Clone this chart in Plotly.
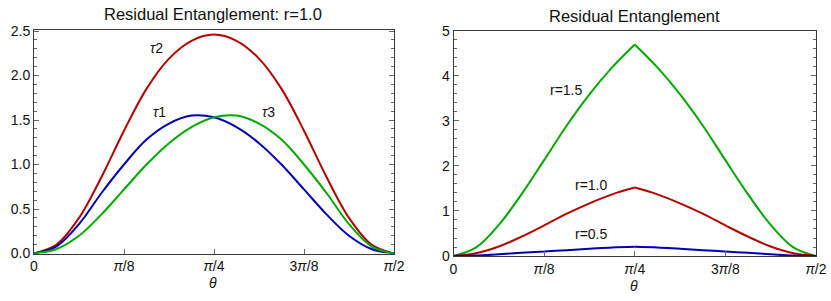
import numpy as np
import plotly.graph_objects as go

# theta samples in units of pi/32
theta_steps = list(range(17))
theta = [k * np.pi / 32 for k in theta_steps]

# Left panel: residual entanglement at r=1.0
tau1 = [0.0, 0.08, 0.33, 0.68, 1.00, 1.28, 1.46, 1.55, 1.53, 1.42, 1.24, 1.00, 0.72, 0.44, 0.20, 0.05, 0.0]
tau2 = [0.0, 0.10, 0.40, 0.86, 1.38, 1.85, 2.19, 2.39, 2.46, 2.39, 2.19, 1.85, 1.38, 0.86, 0.40, 0.10, 0.0]
tau3 = [0.0, 0.05, 0.20, 0.44, 0.72, 1.00, 1.24, 1.42, 1.53, 1.55, 1.46, 1.28, 1.00, 0.68, 0.33, 0.08, 0.0]

# Right panel: residual entanglement for several r
r05 = [0.0, 0.01, 0.04, 0.07, 0.10, 0.13, 0.16, 0.19, 0.205, 0.19, 0.16, 0.13, 0.10, 0.07, 0.04, 0.01, 0.0]
r10 = [0.0, 0.06, 0.21, 0.43, 0.68, 0.94, 1.17, 1.37, 1.52, 1.37, 1.17, 0.94, 0.68, 0.43, 0.21, 0.06, 0.0]
r15 = [0.0, 0.19, 0.69, 1.37, 2.13, 2.90, 3.59, 4.19, 4.70, 4.19, 3.59, 2.90, 2.13, 1.37, 0.69, 0.19, 0.0]

x_tickvals = [0, np.pi / 8, np.pi / 4, 3 * np.pi / 8, np.pi / 2]
x_ticktext = ["0", "<i>π</i>/8", "<i>π</i>/4", "3<i>π</i>/8", "<i>π</i>/2"]

RED = "#B40000"
BLUE = "#0000B4"
GREEN = "#00A800"
FONT = "Liberation Sans"

fig = go.Figure()

def add(xa, ya, x, y, color, split=False):
    if split:
        mid = len(x) // 2
        parts = [(x[:mid + 1], y[:mid + 1]), (x[mid:], y[mid:])]
    else:
        parts = [(x, y)]
    for px, py in parts:
        fig.add_trace(go.Scatter(x=px, y=py, mode="lines", xaxis=xa, yaxis=ya,
                                 line=dict(color=color, width=2, shape="spline", smoothing=1.0),
                                 showlegend=False, hoverinfo="skip"))

add("x", "y", theta, tau2, RED)
add("x", "y", theta, tau1, BLUE)
add("x", "y", theta, tau3, GREEN)
add("x2", "y2", theta, r15, GREEN, split=True)
add("x2", "y2", theta, r10, RED, split=True)
add("x2", "y2", theta, r05, BLUE, split=True)

W, H = 831, 301
def px_x(v):
    return v / W
def px_y(v):
    return 1 - v / H

frame = "#3a3a3a"
tickc = "#666666"

common_x = dict(range=[0, np.pi / 2], tickvals=x_tickvals, ticktext=x_ticktext,
                ticks="inside", ticklen=5, tickcolor=tickc, showline=True, linecolor=frame,
                linewidth=1, mirror=True, showgrid=False, zeroline=False, automargin=False,
                tickfont=dict(family=FONT, size=14, color="#111"))
common_y = dict(ticks="inside", ticklen=5, tickcolor=tickc, showline=True, linecolor=frame,
                linewidth=1, mirror="ticks", showgrid=False, zeroline=False, automargin=False,
                tickfont=dict(family=FONT, size=14, color="#111"))

fig.update_layout(
    width=W, height=H, margin=dict(l=0, r=0, t=0, b=0, autoexpand=False),
    paper_bgcolor="white", plot_bgcolor="white",
    font=dict(family=FONT, size=14, color="#111"),
    xaxis=dict(domain=[px_x(34), px_x(394)], anchor="y", **common_x),
    yaxis=dict(domain=[px_y(253.5), px_y(29.5)], anchor="x", range=[0, 2.517],
               tickvals=[0, 0.5, 1.0, 1.5, 2.0, 2.5], ticktext=["0.0", "0.5", "1.0", "1.5", "2.0", "2.5"],
               minor=dict(dtick=0.1, ticks="inside", ticklen=3, tickcolor=tickc),
               **common_y),
    xaxis2=dict(domain=[px_x(453.5), px_x(816)], anchor="y2", **common_x),
    yaxis2=dict(domain=[px_y(256), px_y(30.5)], anchor="x2", range=[0, 5.01],
                tickvals=[0, 1, 2, 3, 4, 5],
                minor=dict(dtick=0.2, ticks="inside", ticklen=3, tickcolor=tickc),
                **common_y),
)

annots = [
    dict(text="Residual Entanglement: r=1.0", x=213, y=14, size=16.5),
    dict(text="Residual Entanglement", x=634, y=16, size=16.5),
    dict(text="<i>θ</i>", x=213, y=283, size=14),
    dict(text="<i>θ</i>", x=634, y=286, size=14),
    dict(text="<i>τ</i>2", x=156, y=48, size=14),
    dict(text="<i>τ</i>1", x=159, y=112, size=14),
    dict(text="<i>τ</i>3", x=268.5, y=112, size=14),
    dict(text="r=1.5", x=566, y=90, size=14),
    dict(text="r=1.0", x=591, y=185, size=14),
    dict(text="r=0.5", x=591.5, y=234, size=14),
]
for a in annots:
    fig.add_annotation(text=a["text"], x=px_x(a["x"]), y=px_y(a["y"]), xref="paper", yref="paper",
                       xanchor="center", yanchor="middle", showarrow=False,
                       font=dict(family=FONT, size=a["size"], color="#111"))

fig.write_html("out.html", config={"displayModeBar": False},
               post_script="document.body.style.margin='0';document.body.style.overflow='hidden';")
